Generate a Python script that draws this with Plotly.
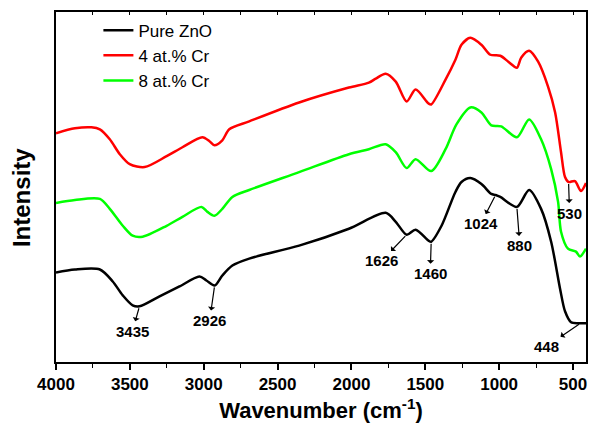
import numpy as np
import plotly.graph_objects as go

# FTIR spectra (wavenumber in cm^-1, intensity in arbitrary units, stacked)
wn_pure = [4000, 3872, 3703, 3616, 3548, 3481, 3435, 3299, 3164, 3029, 2982, 2926,
           2874, 2806, 2692, 2354, 2017, 1768, 1700, 1626, 1566, 1478, 1460, 1390,
           1296, 1255, 1195, 1120, 1053, 1024, 992, 880, 797, 716, 648, 588, 554,
           513, 466, 448, 412]
int_pure = [90, 93, 93, 81, 67, 57, 56, 66, 76, 86, 82, 77,
            87, 97, 104, 117, 134, 150, 141, 128, 133, 122, 121, 137,
            171, 181, 185, 179, 169, 168, 166, 156, 173, 154, 121, 74, 51,
            40, 39, 39, 39]

wn_cr4 = [4000, 3872, 3760, 3703, 3636, 3568, 3501, 3400, 3251, 3144, 3009, 2961,
          2928, 2874, 2827, 2692, 2354, 2017, 1882, 1835, 1768, 1700, 1626, 1566,
          1478, 1460, 1363, 1296, 1255, 1195, 1120, 1060, 992, 938, 880, 851, 797,
          736, 669, 621, 581, 554, 530, 487, 446, 412]
int_cr4 = [230, 235, 236, 234, 224, 209, 199, 196, 207, 216, 226, 222,
           218, 223, 234, 242, 261, 276, 281, 285, 290, 282, 262, 274,
           260, 259, 284, 304, 319, 326, 319, 309, 308, 302, 296, 306, 313,
           302, 277, 251, 211, 186, 181, 182, 172, 180]

wn_cr8 = [4000, 3872, 3703, 3636, 3548, 3481, 3413, 3251, 3144, 3015, 2975, 2928,
          2874, 2806, 2692, 2354, 2017, 1882, 1768, 1700, 1626, 1566, 1460, 1363,
          1289, 1195, 1120, 1053, 986, 880, 797, 716, 648, 601, 581, 534, 480,
          453, 412]
int_cr8 = [160, 163, 164, 154, 137, 127, 126, 137, 146, 156, 151, 147,
           154, 166, 173, 191, 209, 214, 219, 211, 195, 204, 192, 214,
           239, 256, 251, 238, 237, 226, 244, 224, 194, 161, 131, 114, 111,
           106, 114]

series_names = ["Pure ZnO", "4 at.% Cr", "8 at.% Cr"]
series_colors = ["#000000", "#ff0000", "#00ff00"]

# Labelled absorption bands: wavenumber, curve it is marked on, label offset (px)
band_wn = [3435, 2926, 1626, 1460, 1024, 880, 530, 448]
band_series = [0, 0, 0, 0, 0, 0, 1, 0]
band_dx = [-7, -5, -25, -1, -15, 3, 1, -34]
band_dy = [25, 35, 26, 32, 29, 39, 31, 23]

tick_vals = [4000, 3500, 3000, 2500, 2000, 1500, 1000, 500]
tick_text = ["4000", "3500", "3000", "2500", "2000", "1500", "1000", "500"]

xs = [wn_pure, wn_cr4, wn_cr8]
ys = [int_pure, int_cr4, int_cr8]

font_family = "Arial, Liberation Sans, sans-serif"

fig = go.Figure()
for name, color, x, y in zip(series_names, series_colors, xs, ys):
    fig.add_trace(go.Scatter(
        x=x, y=y, name=name, mode="lines",
        line=dict(color=color, width=2.5, shape="spline", smoothing=0.8),
    ))

for wn, s, dx, dy in zip(band_wn, band_series, band_dx, band_dy):
    xv = np.array(xs[s], dtype=float)[::-1]
    yv = np.array(ys[s], dtype=float)[::-1]
    yval = float(np.interp(wn, xv, yv))
    fig.add_annotation(
        x=wn, y=yval, ax=dx, ay=dy, text=str(wn),
        showarrow=True, arrowside="start", arrowhead=2, arrowsize=1.3,
        arrowwidth=1.2, arrowcolor="black", standoff=2, startstandoff=1,
        borderpad=0,
        font=dict(family=font_family, size=15, color="black", weight="bold"),
    )

# vertical axis title
fig.add_annotation(
    xref="paper", yref="paper", x=-0.065, y=0.47, text="Intensity",
    textangle=-90, showarrow=False, xanchor="center", yanchor="middle",
    font=dict(family=font_family, size=24, color="black", weight="bold"),
)

axis_font = dict(family=font_family, size=17, color="black", weight="bold")

fig.update_layout(
    width=590, height=423,
    margin=dict(l=56, r=2, t=12, b=59),
    paper_bgcolor="white", plot_bgcolor="white",
    showlegend=True,
    legend=dict(
        x=0.08, y=0.998, xanchor="left", yanchor="top",
        bgcolor="rgba(0,0,0,0)", borderwidth=0,
        font=dict(family=font_family, size=17, color="black"),
        tracegroupgap=0,
    ),
    xaxis=dict(
        range=[4000, 412], tickmode="array", tickvals=tick_vals, ticktext=tick_text,
        ticks="outside", ticklen=6, tickwidth=1.5, tickcolor="black",
        minor=dict(dtick=250, tick0=0, ticks="outside", ticklen=4, tickwidth=1.2,
                   tickcolor="black"),
        showline=True, linecolor="black", linewidth=2, mirror=True,
        showgrid=False, zeroline=False, tickfont=axis_font,
        title=dict(text="Wavenumber (cm<sup>-1</sup>)", standoff=11,
                   font=dict(family=font_family, size=22, color="black",
                             weight="bold")),
    ),
    xaxis2=dict(
        overlaying="x", side="top", matches="x", range=[4000, 412],
        tickmode="linear", tick0=0, dtick=250, ticks="inside", ticklen=3,
        tickcolor="black", showticklabels=False, showgrid=False,
        zeroline=False, showline=False,
    ),
    yaxis=dict(
        range=[0, 352], showticklabels=False, ticks="", showgrid=False,
        zeroline=False, showline=True, linecolor="black", linewidth=2,
        mirror=True,
    ),
)

# invisible trace to activate the top tick axis
fig.add_trace(go.Scatter(x=[4000], y=[0], xaxis="x2", mode="markers",
                         marker=dict(opacity=0), showlegend=False,
                         hoverinfo="skip"))

fig.write_html("out.html")
